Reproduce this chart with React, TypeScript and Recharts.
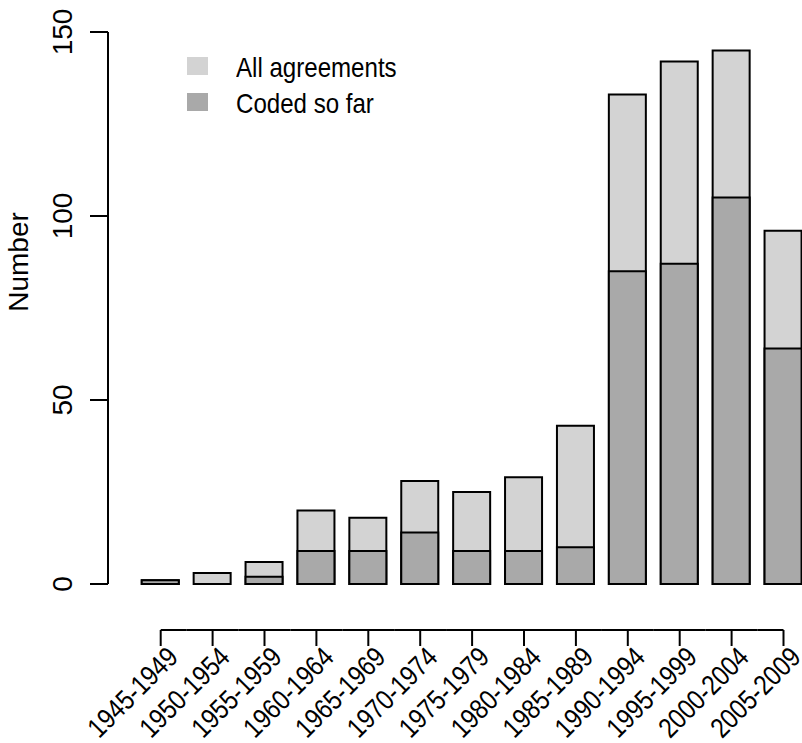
import { BarChart, Bar, XAxis, YAxis, Legend } from "recharts";

const periods = [
  "1945-1949",
  "1950-1954",
  "1955-1959",
  "1960-1964",
  "1965-1969",
  "1970-1974",
  "1975-1979",
  "1980-1984",
  "1985-1989",
  "1990-1994",
  "1995-1999",
  "2000-2004",
  "2005-2009",
];
const allAgreements = [1, 3, 6, 20, 18, 28, 25, 29, 43, 133, 142, 145, 96];
const codedSoFar = [1, 0, 2, 9, 9, 14, 9, 9, 10, 85, 87, 105, 64];
const yTicks = [0, 50, 100, 150];
const seriesNames = ["All agreements", "Coded so far"];
const seriesColors = ["#d3d3d3", "#a9a9a9"];

const data = periods.map((period, i) => ({
  period,
  all: allAgreements[i],
  coded: codedSoFar[i],
}));

const FONT = '"Liberation Sans", Arial, Helvetica, sans-serif';

// x axis drawn R-style: line between first and last tick, offset below the bars
function XTick({ x, y, payload, index }: any) {
  const half = 26;
  const lineY = y + 46;
  const last = periods.length - 1;
  const lx = x + 12;
  const ly = y + 68;
  return (
    <g>
      <line
        x1={index > 0 ? x - half : x}
        x2={index < last ? x + half : x}
        y1={lineY}
        y2={lineY}
        stroke="#000"
        strokeWidth={2}
      />
      <line x1={x} x2={x} y1={lineY} y2={lineY + 16} stroke="#000" strokeWidth={2} />
      <text
        x={0}
        y={0}
        textAnchor="end"
        dominantBaseline="central"
        transform={`translate(${lx}, ${ly}) rotate(-45) scale(0.85, 1)`}
        fontSize={28}
        fontFamily={FONT}
        fill="#000"
      >
        {payload.value}
      </text>
    </g>
  );
}

function YTick({ x, y, payload }: any) {
  const tx = x - 36;
  return (
    <g>
      <line x1={x - 18} x2={x} y1={y} y2={y} stroke="#000" strokeWidth={2} />
      <text
        x={tx}
        y={y}
        textAnchor="middle"
        transform={`rotate(-90, ${tx}, ${y})`}
        fontSize={28}
        fontFamily={FONT}
        fill="#000"
      >
        {payload.value}
      </text>
    </g>
  );
}

function LegendContent({ payload }: any) {
  const items = payload && payload.length ? payload : [];
  return (
    <div>
      {items.map((entry: any, i: number) => (
        <div
          key={entry.value}
          style={{ display: "flex", alignItems: "center", height: 36 }}
        >
          <div
            style={{
              width: 21,
              height: 18,
              background: entry.color || seriesColors[i],
              marginRight: 28,
            }}
          />
          <span
            style={{
              display: "inline-block",
              fontSize: 28,
              fontFamily: FONT,
              lineHeight: "36px",
              color: "#000",
              whiteSpace: "nowrap",
              position: "relative",
              top: 2,
              transform: "scaleX(0.86)",
              transformOrigin: "left center",
            }}
          >
            {entry.value}
          </span>
        </div>
      ))}
    </div>
  );
}

export default function App() {
  return (
    <div style={{ position: "absolute", left: 0, top: 0, width: 802, height: 743, overflow: "hidden" }}>
      <BarChart
        width={802}
        height={743}
        data={data}
        margin={{ top: 32, right: -7.45, bottom: 0, left: 0 }}
        style={{ fontFamily: FONT }}
      >
        <XAxis
          xAxisId="a"
          dataKey="period"
          height={159}
          axisLine={false}
          tickLine={false}
          tickSize={0}
          tickMargin={0}
          interval={0}
          tick={<XTick />}
          padding={{ left: 26.75, right: 0 }}
        />
        <XAxis
          xAxisId="b"
          dataKey="period"
          hide
          padding={{ left: 26.75, right: 0 }}
        />
        <YAxis
          domain={[0, 150]}
          ticks={yTicks}
          width={108}
          axisLine={{ stroke: "#000", strokeWidth: 2 }}
          tickLine={false}
          tickSize={0}
          tickMargin={0}
          tick={<YTick />}
          label={() => (
            <text
              x={28}
              y={262}
              textAnchor="middle"
              transform="rotate(-90, 28, 262)"
              fontSize={28}
              fontFamily={FONT}
              fill="#000"
            >
              Number
            </text>
          )}
        />
        <Legend
          layout="vertical"
          align="center"
          verticalAlign="middle"
          wrapperStyle={{ left: 187, top: 48, width: "auto" }}
          content={<LegendContent />}
        />
        <Bar
          xAxisId="a"
          dataKey="all"
          name={seriesNames[0]}
          fill={seriesColors[0]}
          stroke="#000"
          strokeWidth={2}
          barSize={37}
          isAnimationActive={false}
        />
        <Bar
          xAxisId="b"
          dataKey="coded"
          name={seriesNames[1]}
          fill={seriesColors[1]}
          stroke="#000"
          strokeWidth={2}
          barSize={37}
          isAnimationActive={false}
        />
      </BarChart>
    </div>
  );
}
